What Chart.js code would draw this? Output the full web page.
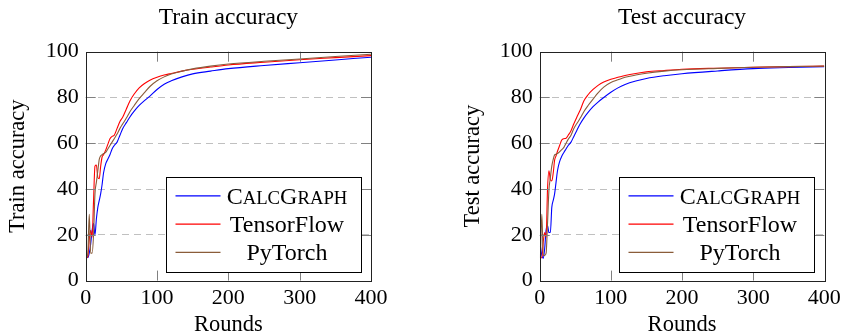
<!DOCTYPE html>
<html>
<head>
<meta charset="utf-8">
<script src="https://cdn.jsdelivr.net/npm/chart.js@4.4.0/dist/chart.umd.min.js"></script>
<style>
  html, body { margin: 0; padding: 0; background: #fff; }
  #wrap { position: relative; width: 842px; height: 336px; }
  canvas { position: absolute; top: 0; }
</style>
</head>
<body>
<div id="wrap">
  <canvas id="trainChart" width="421" height="336" style="left:0px"></canvas>
  <canvas id="testChart" width="421" height="336" style="left:421px"></canvas>
</div>
<script>
const rounds = [1, 3, 5, 7, 9, 11, 13, 15, 17, 19, 21, 23, 25, 28, 31, 34, 37, 40, 44, 48,
  52, 57, 62, 68, 75, 82, 90, 100, 110, 120, 135, 150, 175, 200, 250, 300, 350, 400];

const trainCalcGraph = [11, 10, 12, 16, 22, 25, 20, 27, 32, 35, 38, 42, 47, 51, 53, 55, 57.5, 59, 60.5, 63.5,
  66.5, 69, 71.5, 74, 76.5, 78.5, 80.6, 83.5, 85.8, 87.3, 89, 90.3, 91.5, 92.6, 94, 95.2, 96.4, 97.6];
const trainTensorFlow = [10, 10.5, 18, 22, 19, 35, 50, 50.5, 45, 44.5, 50, 54, 55, 57, 59.5, 62, 63, 63.5, 66.5, 69.5,
  71.5, 75, 78.5, 81.5, 84.2, 86, 87.5, 88.8, 89.8, 90.5, 91.5, 92.3, 93.3, 94.2, 95.4, 96.5, 97.4, 98.3];
const trainPyTorch = [10, 12, 29, 12, 12, 20, 38, 43, 48, 53, 54.5, 55, 55.5, 56, 57.5, 59, 60.5, 62, 64, 66.5,
  68.5, 71, 73.8, 76.5, 79.5, 82, 84.8, 87.3, 89, 90.3, 91.5, 92.5, 93.7, 94.6, 95.8, 96.8, 97.9, 98.9];

const testCalcGraph = [15, 11, 9.7, 14, 22, 24, 21, 21, 32, 35, 38, 43, 48, 52, 54.3, 56, 57.5, 59, 60.5, 63,
  65.5, 68.5, 71, 73.5, 76, 78, 80, 82.3, 84.2, 85.7, 87.2, 88.3, 89.5, 90.4, 91.6, 92.6, 93.1, 93.5];
const testTensorFlow = [10, 10, 17, 21, 19, 40, 48, 44, 43.5, 47, 52.7, 54.5, 56.5, 59, 61.4, 62, 62.2, 63.5, 65.5, 68.5,
  71.3, 74.5, 78.5, 81.2, 83.5, 85.3, 86.8, 88, 88.8, 89.6, 90.5, 91.2, 91.8, 92.3, 92.8, 93.2, 93.5, 93.7];
const testPyTorch = [10, 29, 11, 11, 12, 25, 39.6, 45, 50, 53, 54.9, 55.2, 55.5, 56.3, 57.2, 58.2, 60, 61.7, 63.5, 66.5,
  68.5, 71, 73.8, 76.5, 79.3, 82, 84.5, 86.5, 87.7, 88.8, 89.8, 90.6, 91.5, 92.1, 92.7, 93.2, 93.5, 93.7];

const seriesNames = ['CalcGraph', 'TensorFlow', 'PyTorch'];
const seriesColors = ['#0000ff', '#ff0000', '#8a5c3a'];
const xTicks = [0, 100, 200, 300, 400];
const yTicks = [0, 20, 40, 60, 80, 100];

Chart.defaults.font.family = "'Liberation Serif', 'DejaVu Serif', serif";
Chart.defaults.font.size = 22;
Chart.defaults.color = '#000';

function drawSmallCaps(ctx, text, cx, y, size) {
  // crude small caps: lower case letters become smaller capitals
  let parts = [];
  for (let ch of text) {
    let small = ch !== ch.toUpperCase();
    parts.push({ t: ch.toUpperCase(), s: small ? size * 0.78 : size });
  }
  let total = 0;
  parts.forEach(p => {
    ctx.font = p.s + "px 'Liberation Serif', serif";
    p.w = ctx.measureText(p.t).width;
    total += p.w;
  });
  let x = cx - total / 2;
  ctx.textAlign = 'left';
  parts.forEach(p => {
    ctx.font = p.s + "px 'Liberation Serif', serif";
    ctx.fillText(p.t, x, y);
    x += p.w;
  });
}

const framePlugin = {
  id: 'framePlugin',
  afterDatasetsDraw(chart) {
    const ctx = chart.ctx;
    const ca = chart.chartArea;
    const xs = chart.scales.x, ys = chart.scales.y;
    ctx.save();
    // inward ticks
    ctx.strokeStyle = '#808080';
    ctx.lineWidth = 1;
    ctx.beginPath();
    xTicks.slice(1, -1).forEach(v => {
      let px = Math.round(xs.getPixelForValue(v)) + 0.5;
      ctx.moveTo(px, ca.top); ctx.lineTo(px, ca.top + 10);
      ctx.moveTo(px, ca.bottom); ctx.lineTo(px, ca.bottom - 10);
    });
    yTicks.slice(1, -1).forEach(v => {
      let py = Math.round(ys.getPixelForValue(v)) + 0.5;
      ctx.moveTo(ca.left, py); ctx.lineTo(ca.left + 10, py);
      ctx.moveTo(ca.right, py); ctx.lineTo(ca.right - 10, py);
    });
    ctx.stroke();
    // frame
    ctx.strokeStyle = '#222';
    ctx.strokeRect(Math.round(ca.left) + 0.5, Math.round(ca.top) + 0.5,
      Math.round(ca.right - ca.left), Math.round(ca.bottom - ca.top));

    // legend box, lower right inside the plot
    const bw = 195, bh = 95;
    const bx = Math.round(ca.right - 10 - bw) + 0.5;
    const by = Math.round(ca.bottom - 9 - bh) + 0.5;
    ctx.fillStyle = '#fff';
    ctx.fillRect(bx, by, bw, bh);
    ctx.strokeStyle = '#000';
    ctx.strokeRect(bx, by, bw, bh);
    ctx.fillStyle = '#000';
    ctx.textBaseline = 'alphabetic';
    seriesNames.forEach((name, i) => {
      let ry = by + 18.3 + i * 28.3;
      ctx.strokeStyle = seriesColors[i];
      ctx.lineWidth = 1.2;
      ctx.beginPath();
      ctx.moveTo(bx + 9, ry); ctx.lineTo(bx + 54, ry);
      ctx.stroke();
      if (i === 0) {
        drawSmallCaps(ctx, name, bx + 120.5, ry + 7.8, 24);
      } else {
        ctx.font = "24px 'Liberation Serif', serif";
        ctx.textAlign = 'center';
        ctx.fillText(name, bx + 120.5, ry + 7.8);
      }
    });
    ctx.restore();
  }
};

function makeChart(id, title, yTitle, values, plotLeft, padRight, yTitlePad) {
  const datasets = values.map((arr, i) => ({
    label: seriesNames[i],
    data: rounds.map((r, k) => ({ x: r, y: arr[k] })),
    borderColor: seriesColors[i],
    borderWidth: 1.1,
    pointRadius: 0,
    fill: false,
    cubicInterpolationMode: 'monotone',
    order: 2 - i
  }));
  return new Chart(document.getElementById(id), {
    type: 'line',
    data: { datasets: datasets },
    plugins: [framePlugin],
    options: {
      responsive: false,
      animation: false,
      layout: { padding: { left: 0, top: 0, right: padRight, bottom: 0 } },
      plugins: {
        legend: { display: false },
        tooltip: { enabled: false },
        title: {
          display: true,
          text: title,
          fullSize: false,
          color: '#000',
          font: { size: 23.5, weight: 'normal', lineHeight: 1.2 },
          padding: { top: 4, bottom: 19.5 }
        }
      },
      scales: {
        x: {
          type: 'linear',
          min: 0, max: 400,
          afterFit: s => { s.height = 55.4; s.paddingLeft = 0; s.paddingRight = 0; },
          afterBuildTicks: s => { s.ticks = xTicks.map(v => ({ value: v })); },
          grid: { display: false, drawTicks: false },
          border: { display: false },
          ticks: { padding: 4, maxRotation: 0, font: { size: 22 } },
          title: { display: true, text: 'Rounds', font: { size: 22.5, lineHeight: 1 }, padding: { top: 0, bottom: 0 } }
        },
        y: {
          min: 0, max: 100,
          afterFit: s => { s.width = plotLeft; s.paddingTop = 0; s.paddingBottom = 0; },
          afterBuildTicks: s => { s.ticks = yTicks.map(v => ({ value: v })); },
          grid: {
            drawTicks: false,
            lineWidth: 1,
            color: c => (c.tick && (c.tick.value === 0 || c.tick.value === 100)) ? 'rgba(0,0,0,0)' : '#c0c0c0'
          },
          border: { display: false, dash: [7, 5] },
          ticks: { padding: 7, font: { size: 22 } },
          title: { display: true, text: yTitle, font: { size: 22.5, lineHeight: 1 }, padding: { top: yTitlePad, bottom: 0 } }
        }
      }
    }
  });
}

makeChart('trainChart', 'Train accuracy', 'Train accuracy',
  [trainCalcGraph, trainTensorFlow, trainPyTorch], 85.7, 50, 7);
makeChart('testChart', 'Test accuracy', 'Test accuracy',
  [testCalcGraph, testTensorFlow, testPyTorch], 118.7, 17.7, 40.5);
</script>
</body>
</html>
